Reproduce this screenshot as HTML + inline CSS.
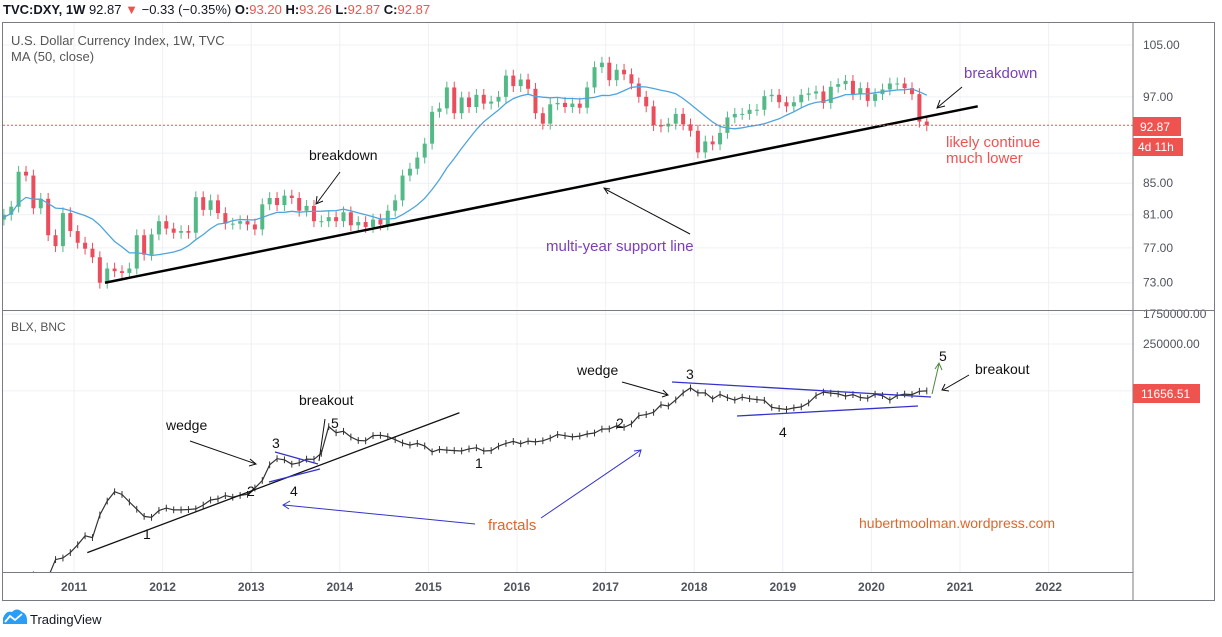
<!DOCTYPE html>
<html><head><meta charset="utf-8"><style>
body{margin:0;background:#fff;font-family:"Liberation Sans",sans-serif;}
svg{display:block}
text{font-family:"Liberation Sans",sans-serif}
</style></head><body>
<svg id="c" width="1222" height="637" viewBox="0 0 1222 637">
<g>
<text x="3" y="14" font-size="13" fill="#131722"><tspan font-weight="bold">TVC:DXY, 1W</tspan> 92.87 <tspan fill="#ef5350">▼</tspan> −0.33 (−0.35%) <tspan font-weight="bold">O:</tspan><tspan fill="#ef5350">93.20</tspan> <tspan font-weight="bold">H:</tspan><tspan fill="#ef5350">93.26</tspan> <tspan font-weight="bold">L:</tspan><tspan fill="#ef5350">92.87</tspan> <tspan font-weight="bold">C:</tspan><tspan fill="#ef5350">92.87</tspan></text>
</g>
<g id="grid"></g>
<g id="topPane"></g>
<g id="botPane"></g>
<g id="frame"></g>
</svg>
<script>
// ---- data ----
const dxyStart = 2010 + 1/12; // Feb 2010
const dxyCloses = [80.4,81,82,86.5,86,81.8,83,78.5,77.2,81.2,79,
77.6,76.9,75.9,73,74.6,74.3,74.1,74.6,78.5,76.2,78.6,80.2,
79.3,78.8,79,78.8,83.2,81.6,82.8,81.2,79.9,79.9,80.2,79.8,
79.2,82.3,83.1,82.2,83.4,83.1,81.5,82.1,80.2,80.2,80.7,80.2,
81.3,79.7,80.1,79.5,80.4,79.8,81.5,82.8,86,86.9,88.4,90.3,
94.8,95.3,98.4,94.6,96.9,95.5,97.3,96,96.3,97,100.2,98.6,
99.6,98.2,94.6,93.1,95.9,96.1,95.5,96,95.4,98.4,101.5,102.2,
99.5,101.1,100.4,99,97,95.6,92.9,92.7,93.1,94.5,93,92.1,
89.1,90.6,90.2,91.8,94,94.5,94.5,95.1,95.1,97.1,97.3,96.2,
95.6,96.2,97.3,97.5,97.8,96.1,98.5,98.9,99.4,97.4,98.3,96.4,
97.4,98.1,99,99,98.3,97.4,93.4,92.87];
const blxStart = 2010 + 6/12; // Jul 2010
const blxCloses = [0.07,0.06,0.06,0.19,0.21,0.3,
0.5,0.9,0.8,3.5,8.7,16,13.4,8.2,5.1,3.2,3,4.7,
5.5,4.9,4.9,5,5.2,6.7,9.3,10,12.4,11.2,12.6,13.5,
20.4,33.4,93,139,129,97,106,135,133,198,1130,757,
830,573,457,448,627,640,587,481,387,338,378,320,
217,254,244,236,230,263,284,230,236,314,377,430,
369,437,416,448,531,673,624,575,609,699,742,963,
970,1190,1080,1350,2300,2480,2875,4700,4340,6470,10200,14150,
10200,10300,6900,9250,7500,6400,7730,7000,6600,6300,4000,3700,
3450,3850,4100,5320,8570,10800,10080,9600,8300,9150,7550,7200,
9350,8600,6400,8620,9450,9140,11350,11656.51];
const years = [2011,2012,2013,2014,2015,2016,2017,2018,2019,2020,2021,2022];
const dxyTicks = [105,97,85,81,77,73];
const blxTicks = [1750000,250000];
const supportLine = [[2011.35,73],[2021.2,95.6]];
const blxTrend = [[2011.15,0.3],[2015.35,2800]];

// ---- axes ----
const NS='http://www.w3.org/2000/svg';
const xT = t => 74 + (t-2011)*88.6;
const yD = p => 45 + (Math.log(105)-Math.log(p))*654;
const yB = p => 344 + (Math.log(250000)-Math.log(p))*15.3;
function el(tag,attrs,parent){const e=document.createElementNS(NS,tag);for(const k in attrs)e.setAttribute(k,attrs[k]);parent.appendChild(e);return e;}
const gridG=document.getElementById('grid'),topG=document.getElementById('topPane'),botG=document.getElementById('botPane'),frameG=document.getElementById('frame');

const defs=el('defs',{},document.getElementById('c'));
const cp1=el('clipPath',{id:'cpT'},defs);el('rect',{x:3,y:23,width:1130,height:287},cp1);
const cp2=el('clipPath',{id:'cpB'},defs);el('rect',{x:3,y:311,width:1130,height:261},cp2);
topG.setAttribute('clip-path','url(#cpT)');botG.setAttribute('clip-path','url(#cpB)');

years.forEach(y=>{const l=el('line',{x1:xT(y),x2:xT(y),y1:23,y2:572,stroke:'#eef0f4'},gridG);

});
dxyTicks.concat([89]).forEach(p=>{const l=el('line',{x1:3,x2:1133,y1:yD(p),y2:yD(p),stroke:'#eef0f4'},gridG);

});
blxTicks.concat([11656.51]).forEach(p=>{const l=el('line',{x1:3,x2:1133,y1:yB(p),y2:yB(p),stroke:'#eef0f4'},gridG);

});

dxyCloses.forEach((c,i)=>{if(i===0)return;const o=dxyCloses[i-1];const t=dxyStart+(i+0.5)/12;const x=xT(t);
const up=c>=o;const col=up?'#53b987':'#eb4d5c';
const hi=Math.max(o,c)*1.009,lo=Math.min(o,c)*0.991;
const w=el('line',{x1:x,x2:x,y1:yD(hi),y2:yD(lo),stroke:col,'stroke-width':1},topG);


const b=el('rect',{x:x-2,y:yD(Math.max(o,c)),width:4,height:Math.max(1,Math.abs(yD(o)-yD(c))),fill:col},topG);

});
let pts=[];dxyCloses.forEach((c,i)=>{const s=dxyCloses.slice(Math.max(0,i-11),i+1);const m=s.reduce((a,b)=>a+b,0)/s.length;pts.push(xT(dxyStart+(i+0.5)/12).toFixed(1)+','+yD(m).toFixed(1));});
const ma=el('polyline',{points:pts.join(' '),fill:'none',stroke:'#4ea5de','stroke-width':1.3},topG);


const sl=el('line',{x1:xT(supportLine[0][0]),y1:yD(supportLine[0][1]),x2:xT(supportLine[1][0]),y2:yD(supportLine[1][1]),stroke:'#000','stroke-width':2.5},topG);


const pl=el('line',{x1:3,x2:1133,y1:yD(92.87),y2:yD(92.87),stroke:'#ef5350','stroke-dasharray':'2,2'},topG);



pts=[];blxCloses.forEach((c,i)=>{const x=xT(blxStart+(i+0.5)/12);pts.push(x.toFixed(1)+','+yB(c).toFixed(1));
const t=el('line',{x1:x,x2:x,y1:yB(c*1.25),y2:yB(c*0.8),stroke:'#333','stroke-width':1},botG);

});
const bl=el('polyline',{points:pts.join(' '),fill:'none',stroke:'#333','stroke-width':1.2},botG);


const bt=el('line',{x1:xT(blxTrend[0][0]),y1:yB(blxTrend[0][1]),x2:xT(blxTrend[1][0]),y2:yB(blxTrend[1][1]),stroke:'#111','stroke-width':1.3},botG);



dxyTicks.forEach(p=>{const t=el('text',{x:1143,y:yD(p)+4,'font-size':12,fill:'#50535e'},frameG);t.textContent=p.toFixed(2);

});
blxTicks.forEach(p=>{const t=el('text',{x:1143,y:Math.max(yB(p)+4,318),'font-size':12,fill:'#50535e'},frameG);t.textContent=p.toFixed(2);

});
years.forEach(y=>{const t=el('text',{x:xT(y),y:591,'font-size':12,'font-weight':'bold',fill:'#50535e','text-anchor':'middle'},frameG);t.textContent=y;

});
</script>
<svg width="1222" height="637" style="position:absolute;left:0;top:0">
<g fill="none" stroke="#787b86">
<rect x="2.5" y="22.5" width="1212" height="578"/>
<line x1="1133" y1="22" x2="1133" y2="600"/>
<line x1="2" y1="310.5" x2="1215" y2="310.5"/>
<line x1="2" y1="572.5" x2="1133" y2="572.5"/>
</g>
<text x="11" y="45" font-size="13" fill="#555">U.S. Dollar Currency Index, 1W, TVC</text>
<text x="11" y="61" font-size="13" fill="#555">MA (50, close)</text>
<text x="11" y="331" font-size="12" fill="#555">BLX, BNC</text>
<rect x="1133" y="117" width="48" height="19" fill="#ef5350"/>
<text x="1140" y="131" font-size="12" fill="#fff">92.87</text>
<rect x="1133" y="138" width="50" height="18" fill="#ef5350"/>
<text x="1138" y="151" font-size="12" fill="#fff">4d 11h</text>
<rect x="1133" y="384" width="67" height="19" fill="#ef5350"/>
<text x="1141" y="398" font-size="12" fill="#fff">11656.51</text>
<g font-size="14">
<text x="309" y="160" fill="#111">breakdown</text>
<line x1="340" y1="172" x2="317" y2="203" stroke="#111"/><polyline points="317,196 316,204 323,201" fill="none" stroke="#111"/>
<text x="546" y="251" fill="#7b3fb5" font-size="15">multi-year support line</text>
<line x1="690" y1="234" x2="605" y2="189" stroke="#111"/><polyline points="610,189 604,188 608,194" fill="none" stroke="#111"/>
<text x="964" y="78" fill="#7b3fb5" font-size="15">breakdown</text>
<line x1="962" y1="87" x2="938" y2="107" stroke="#111"/><polyline points="940,100 937,108 945,106" fill="none" stroke="#111"/>
<text x="946" y="147" fill="#ef5350" font-size="15">likely continue</text>
<text x="946" y="163" fill="#ef5350" font-size="15">much lower</text>
<text x="166" y="430" fill="#111">wedge</text>
<line x1="190" y1="441" x2="256" y2="464" stroke="#111"/><polyline points="250,459 256,464 249,466" fill="none" stroke="#111"/>
<text x="299" y="405" fill="#111">breakout</text>
<line x1="325" y1="419" x2="319" y2="461" stroke="#111"/>
<line x1="275" y1="452" x2="318" y2="464" stroke="#3333cc" stroke-width="1.3"/>
<line x1="269" y1="482" x2="320" y2="469" stroke="#3333cc" stroke-width="1.3"/>
<text x="272" y="448" fill="#111">3</text><text x="247" y="496" fill="#111">2</text>
<text x="290" y="496" fill="#111">4</text><text x="331" y="428" fill="#111">5</text>
<text x="143" y="539" fill="#111">1</text><text x="475" y="468" fill="#111">1</text>
<text x="616" y="428" fill="#111">2</text>
<text x="488" y="530" fill="#e0662a" font-size="15">fractals</text>
<line x1="475" y1="524" x2="284" y2="505" stroke="#3333cc"/><polyline points="290,501 283,505 289,509" fill="none" stroke="#3333cc"/>
<line x1="541" y1="518" x2="641" y2="450" stroke="#3333cc"/><polyline points="634,451 641,450 639,457" fill="none" stroke="#3333cc"/>
<text x="577" y="375" fill="#111">wedge</text>
<line x1="622" y1="382" x2="668" y2="395" stroke="#111"/><polyline points="663,390 668,395 662,397" fill="none" stroke="#111"/>
<text x="686" y="379" fill="#111">3</text><text x="779" y="437" fill="#111">4</text>
<line x1="672" y1="382" x2="931" y2="397" stroke="#3333cc" stroke-width="1.3"/>
<line x1="737" y1="416" x2="918" y2="406" stroke="#3333cc" stroke-width="1.3"/>
<line x1="932" y1="394" x2="939" y2="364" stroke="#4a8a3a"/><polyline points="935,369 939,363 942,370" fill="none" stroke="#4a8a3a"/>
<text x="939" y="361" fill="#111">5</text>
<text x="975" y="374" fill="#111">breakout</text>
<line x1="969" y1="375" x2="943" y2="390" stroke="#111"/><polyline points="945,384 942,390 949,391" fill="none" stroke="#111"/>
<text x="859" y="528" fill="#e0662a" font-size="14">hubertmoolman.wordpress.com</text>
</g>
<g>
<path d="M3,624 L3,618 Q6,610 12,612 Q17,607 22,612 Q28,614 27,624 Z" fill="#2a9df4"/>
<polyline points="5,622 10,616 15,620 22,614" fill="none" stroke="#fff" stroke-width="1.8"/>
<text x="30" y="624" font-size="13" fill="#131722">TradingView</text>
</g>
</svg>
</body></html>
